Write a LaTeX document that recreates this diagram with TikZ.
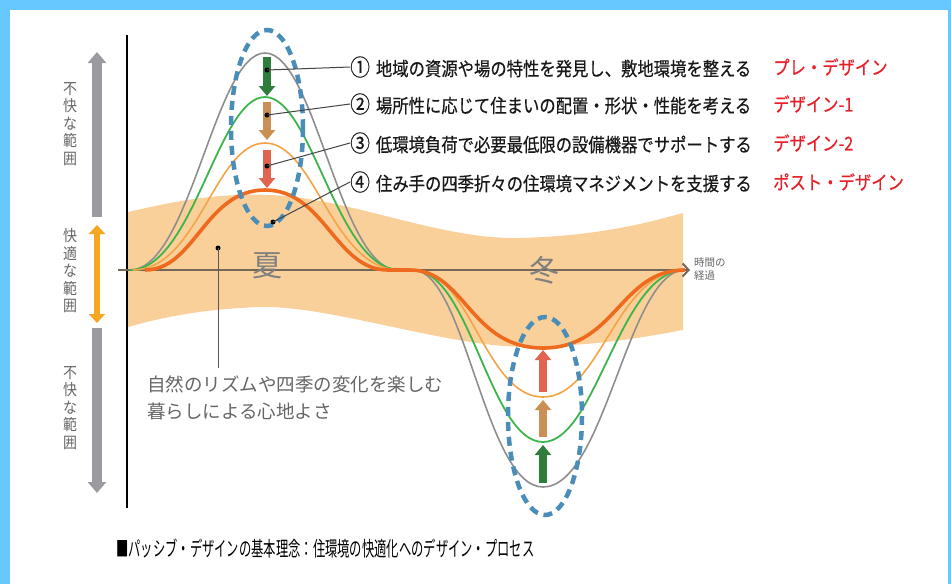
\documentclass[tikz,border=0pt]{standalone}
\usepackage{fontspec}
\newfontfamily\jplist[FakeStretch=0.86, FakeBold=0.4]{Noto Sans CJK JP}
\newfontfamily\jpn{Noto Sans CJK JP}
\newfontfamily\jpside[FakeStretch=0.9]{Noto Sans CJK JP}
\newfontfamily\jpcap[FakeStretch=0.6]{Noto Sans CJK JP}
\usetikzlibrary{arrows.meta}
\definecolor{frameblue}{HTML}{66C8FF}
\definecolor{bandc}{HTML}{F9D09A}
\definecolor{cgray}{HTML}{8E8E8E}
\definecolor{cgreen}{HTML}{3DB54A}
\definecolor{clorange}{HTML}{F4A445}
\definecolor{corange}{HTML}{EE6A1E}
\definecolor{eblue}{HTML}{4A8DB8}
\definecolor{agreen}{HTML}{2E7D3A}
\definecolor{atan}{HTML}{C98F55}
\definecolor{ared}{HTML}{E0644F}
\definecolor{axisc}{HTML}{776757}
\definecolor{lgray}{HTML}{9A9AA0}
\definecolor{lorange}{HTML}{F5A623}
\definecolor{txtgray}{HTML}{666666}
\definecolor{redlab}{HTML}{E8202A}
\definecolor{leadgray}{HTML}{444444}
\tikzset{
  gcurve/.style={draw=cgray, line width=1.6pt},
  grcurve/.style={draw=cgreen, line width=1.8pt},
  locurve/.style={draw=clorange, line width=1.6pt},
  ocurve/.style={draw=corange, line width=3.6pt},
  ellipsed/.style={draw=eblue, line width=4.5pt, dash pattern=on 9pt off 6pt},
  blockarrow/.style={line width=8pt, -{Triangle[width=16pt,length=10pt]}},
  leader/.style={draw=leadgray, line width=1pt},
  dotst/.style={circle, fill=black, inner sep=0pt, minimum size=5pt},
  listtxt/.style={anchor=west, inner sep=0pt, text=black!90, font=\jplist\fontsize{19}{22}\selectfont},
  redtxt/.style={anchor=west, inner sep=0pt, text=redlab, font=\jplist\fontsize{19}{22}\selectfont},
  sidetxt/.style={align=center, inner sep=0pt, text=txtgray, font=\jpside\fontsize{15.5}{17.5}\selectfont},
  seasontxt/.style={inner sep=0pt, text=black!50, font=\jpn\fontsize{30}{32}\selectfont},
}
\newcommand{\circnum}[1]{{\fontsize{23}{23}\selectfont #1}\hspace{6pt}}
\begin{document}
\begin{tikzpicture}[x=1pt,y=-1pt]
\useasboundingbox (0,0) rectangle (951,584);
\fill[frameblue] (0,0) rectangle (951,584);
\fill[white] (10,10) rectangle (948,584);

% comfort band
\fill[bandc] (128,212) .. controls (180,200) and (220,193) .. (270,195)
  .. controls (350,198) and (440,240) .. (520,238)
  .. controls (600,236) and (650,222) .. (683,213)
  -- (683,330) .. controls (640,338) and (600,345) .. (530,347)
  .. controls (450,348) and (330,305) .. (260,307)
  .. controls (200,309) and (160,318) .. (128,327) -- cycle;

% axes
\draw[black, line width=1.5pt] (127,35) -- (127,508);
\draw[axisc, line width=2pt, -{Straight Barb[length=6pt,width=13pt]}] (118,270) -- (690,270);

% curves
\draw[gcurve] (130,270) .. controls (190,270) and (215,53) .. (265,53)
  .. controls (315,53) and (340,270) .. (398,270) -- (413,270)
  .. controls (465,270) and (485,487) .. (543,487)
  .. controls (605,487) and (628,270) .. (685,270);
\draw[grcurve] (130,270) .. controls (193,270) and (218,97) .. (265,97)
  .. controls (312,97) and (337,270) .. (400,270) -- (413,270)
  .. controls (470,270) and (490,442) .. (543,442)
  .. controls (596,442) and (620,270) .. (685,270);
\draw[locurve] (133,270) .. controls (198,270) and (215,143) .. (265,143)
  .. controls (315,143) and (332,270) .. (400,270) -- (415,270)
  .. controls (470,270) and (485,397) .. (543,397)
  .. controls (601,397) and (616,270) .. (685,270);
\draw[ocurve] (145,270) .. controls (195,270) and (205,190) .. (265,190)
  .. controls (325,190) and (335,270) .. (388,270) -- (410,270)
  .. controls (465,270) and (470,348) .. (543,348)
  .. controls (616,348) and (620,270) .. (685,270);

% season labels
\node[seasontxt] (summer) at (267,266) {夏};
\node[seasontxt] (winter) at (544,270) {冬};
\node[anchor=north west, align=left, inner sep=0pt, text=txtgray, font=\jpn\fontsize{10.5}{13}\selectfont] (timelab) at (694,257) {時間の\\経過};

% dashed ellipses
\draw[ellipsed] (267,128) ellipse [x radius=36, y radius=98];
\draw[ellipsed] (545,416) ellipse [x radius=37, y radius=99];

% block arrows summer
\draw[blockarrow, agreen] (267,57) -- (267,96);
\draw[blockarrow, atan] (267,102) -- (267,140);
\draw[blockarrow, ared] (267,150) -- (267,188);
% block arrows winter
\draw[blockarrow, ared] (543,392) -- (543,350);
\draw[blockarrow, atan] (543,437) -- (543,400);
\draw[blockarrow, agreen] (543,483) -- (543,445);

% list texts
\node[listtxt] (t1) at (350,67) {\circnum{①}地域の資源や場の特性を発見し、敷地環境を整える};
\node[listtxt] (t2) at (350,104) {\circnum{②}場所性に応じて住まいの配置・形状・性能を考える};
\node[listtxt] (t3) at (350,143) {\circnum{③}低環境負荷で必要最低限の設備機器でサポートする};
\node[listtxt] (t4) at (350,182) {\circnum{④}住み手の四季折々の住環境マネジメントを支援する};
\node[redtxt] (r1) at (773,67) {プレ・デザイン};
\node[redtxt] (r2) at (773,104) {デザイン-1};
\node[redtxt] (r3) at (773,143) {デザイン-2};
\node[redtxt] (r4) at (773,182) {ポスト・デザイン};

% leader dots and lines
\node[dotst] (d1) at (267,70) {};
\node[dotst] (d2) at (267,115) {};
\node[dotst] (d3) at (267,166) {};
\node[dotst] (d4) at (273,222) {};
\draw[leader] (d1.center) -- (t1.west);
\draw[leader] (d2.center) -- (t2.west);
\draw[leader] (d3.center) -- (t3.west);
\draw[leader] (d4.center) -- (t4.west);

% natural rhythm note
\node[anchor=north west, align=left, inner sep=0pt, text=txtgray, font=\jpn\fontsize{18.5}{27}\selectfont] (nat) at (147,376) {自然のリズムや四季の変化を楽しむ\\暮らしによる心地よさ};
\node[dotst] (d5) at (218,248) {};
\draw[leader, draw=black!65] (d5.center) -- (218,368);

% left range arrows
\draw[lgray, line width=10pt, -{Triangle[width=18pt,length=11pt]}] (97,217) -- (97,52);
\draw[lorange, line width=6pt, {Triangle[width=16pt,length=9pt]}-{Triangle[width=16pt,length=9pt]}] (97,225) -- (97,323);
\draw[lgray, line width=10pt, -{Triangle[width=18pt,length=11pt]}] (97,328) -- (97,493);
\node[sidetxt] (s1) at (70,124) {不\\快\\な\\範\\囲};
\node[sidetxt] (s2) at (70,271) {快\\適\\な\\範\\囲};
\node[sidetxt] (s3) at (70,408) {不\\快\\な\\範\\囲};

% caption
\node[anchor=west, inner sep=0pt, text=black, font=\jpcap\fontsize{20.5}{22}\selectfont] (cap) at (116,549) {■パッシブ・デザインの基本理念：住環境の快適化へのデザイン・プロセス};
\end{tikzpicture}
\end{document}
